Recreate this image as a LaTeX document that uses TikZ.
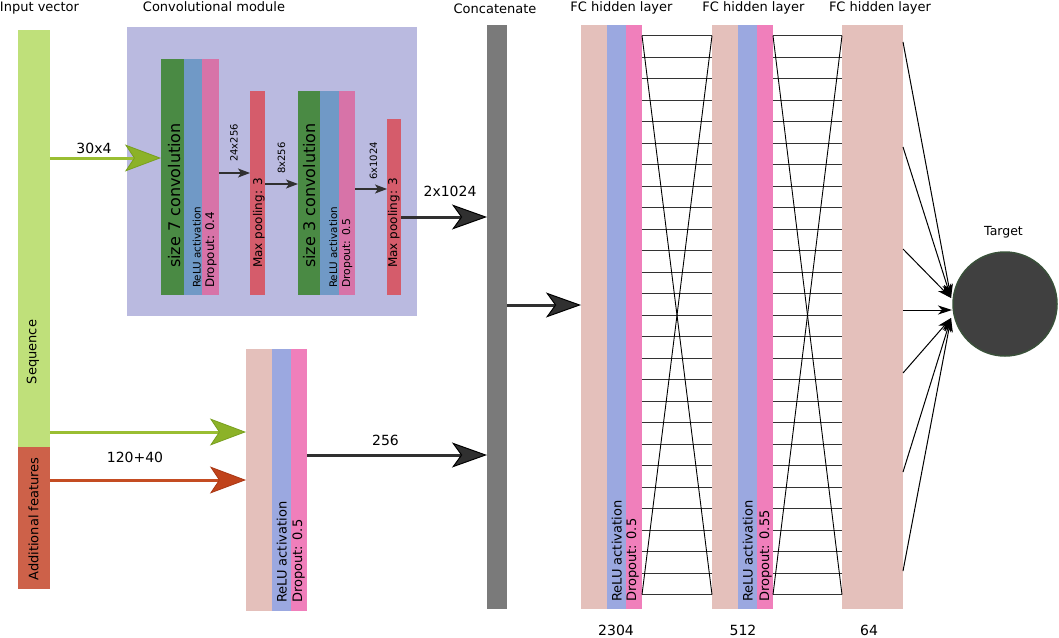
\documentclass[tikz,border=0pt]{standalone}
\usepackage{fontspec}
\setmainfont{DejaVu Sans}
\usetikzlibrary{arrows.meta}

\definecolor{seqgreen}{RGB}{191,224,122}
\definecolor{addred}{RGB}{205,97,73}
\definecolor{convbg}{RGB}{186,186,224}
\definecolor{convgreen}{RGB}{74,138,68}
\definecolor{convblue}{RGB}{112,153,198}
\definecolor{convpink}{RGB}{215,115,168}
\definecolor{poolred}{RGB}{213,92,107}
\definecolor{fcbeige}{RGB}{228,192,187}
\definecolor{fcblue}{RGB}{155,168,224}
\definecolor{fcpink}{RGB}{240,127,187}
\definecolor{concatgray}{RGB}{122,122,122}
\definecolor{targetfill}{RGB}{64,64,64}
\definecolor{targetedge}{RGB}{58,80,58}
\definecolor{arrgreen}{RGB}{154,190,50}
\definecolor{arrgreenhead}{RGB}{140,178,40}
\definecolor{arrgreenedge}{RGB}{120,160,30}
\definecolor{arrred}{RGB}{196,76,34}
\definecolor{arrredhead}{RGB}{192,67,27}
\definecolor{arrrededge}{RGB}{170,55,20}
\definecolor{arrdark}{RGB}{48,48,48}

\begin{document}
\begin{tikzpicture}[x=1pt,y=-1pt,
  bar/.style={inner sep=0pt, outer sep=0pt, anchor=north west, draw=none},
  vtext/.style={rotate=90, anchor=base west, inner sep=0pt, text=black},
  fs/.style={font=\fontsize{#1}{#1}\selectfont},
  lbl/.style={inner sep=0pt, anchor=base, text=black},
  bigarrow/.style={draw=arrdark, line width=3pt,
    -{Stealth[length=35pt,width=25pt,inset=9pt,line width=1pt,color=black,fill=arrdark]}},
  greenarrow/.style={draw=arrgreen, line width=3pt,
    -{Stealth[length=36pt,width=27pt,inset=9pt,line width=0.8pt,color=arrgreenedge,fill=arrgreenhead]}},
  redarrow/.style={draw=arrred, line width=3pt,
    -{Stealth[length=36pt,width=27pt,inset=9pt,line width=0.8pt,color=arrrededge,fill=arrredhead]}},
  smallarrow/.style={draw=arrdark, line width=1.2pt,
    -{Stealth[length=12pt,width=9pt,inset=3pt]}},
  tarrow/.style={draw=black, line width=1pt,
    -{Stealth[length=14pt,width=9pt,inset=4pt]}},
  gridh/.style={draw=black!80, line width=1.1pt},
  gridd/.style={draw=black, line width=0.9pt},
]
\useasboundingbox (0,0) rectangle (1059,637);
\fill[white] (0,0) rectangle (1059,637);

% ---- input vector ----
\node[bar, fill=seqgreen, minimum width=32pt, minimum height=417pt] (seq) at (18,30) {};
\node[bar, fill=addred, minimum width=32pt, minimum height=142pt] (add) at (18,447) {};
\node[rotate=90, fs=13, inner sep=0pt] (seqlbl) at (33,352) {Sequence};
\node[rotate=90, fs=13, inner sep=0pt] (addlbl) at (33.5,519) {Additional features};

% ---- convolutional module ----
\node[bar, fill=convbg, minimum width=290pt, minimum height=289pt] (convbg) at (127,27) {};
\node[bar, fill=convgreen, minimum width=23pt, minimum height=236pt] (c1g) at (161,59) {};
\node[bar, fill=convblue, minimum width=18pt, minimum height=236pt] (c1b) at (184,59) {};
\node[bar, fill=convpink, minimum width=17pt, minimum height=236pt] (c1p) at (202,59) {};
\node[bar, fill=poolred, minimum width=15pt, minimum height=204pt] (mp1) at (250,91) {};
\node[bar, fill=convgreen, minimum width=22pt, minimum height=204pt] (c2g) at (298,91) {};
\node[bar, fill=convblue, minimum width=19pt, minimum height=204pt] (c2b) at (320,91) {};
\node[bar, fill=convpink, minimum width=16pt, minimum height=204pt] (c2p) at (339,91) {};
\node[bar, fill=poolred, minimum width=14pt, minimum height=176pt] (mp2) at (387,119) {};

\node[vtext, fs=16] (t1) at (180,268) {size 7 convolution};
\node[vtext, fs=10.4] (t2) at (200.5,288) {ReLU activation};
\node[vtext, fs=11.9] (t3) at (214,288) {Dropout: 0.4};
\node[vtext, fs=12] (t4) at (262,268) {Max pooling: 3};
\node[vtext, fs=16] (t5) at (315,268) {size 3 convolution};
\node[vtext, fs=10.4] (t6) at (337,288) {ReLU activation};
\node[vtext, fs=10.8] (t7) at (350,288) {Dropout: 0.5};
\node[vtext, fs=12] (t8) at (397,268) {Max pooling: 3};

\node[vtext, fs=10] (s1) at (237.5,162) {24x256};
\node[vtext, fs=10] (s2) at (285,174) {8x256};
\node[vtext, fs=10] (s3) at (377,180) {6x1024};

% ---- concatenate ----
\node[bar, fill=concatgray, minimum width=20pt, minimum height=584pt] (concat) at (487,25) {};

% ---- additional-feature dense block ----
\node[bar, fill=fcbeige, minimum width=26pt, minimum height=262pt] (lowa) at (246,349) {};
\node[bar, fill=fcblue, minimum width=19pt, minimum height=262pt] (lowb) at (272,349) {};
\node[bar, fill=fcpink, minimum width=16pt, minimum height=262pt] (lowc) at (291,349) {};
\node[vtext, fs=13] (t9) at (286.5,603) {ReLU activation};
\node[vtext, fs=13] (t10) at (302,603) {Dropout: 0.5};

% ---- FC layers ----
\node[bar, fill=fcbeige, minimum width=26pt, minimum height=584pt] (fc1a) at (581,25) {};
\node[bar, fill=fcblue, minimum width=19pt, minimum height=584pt] (fc1b) at (607,25) {};
\node[bar, fill=fcpink, minimum width=16pt, minimum height=584pt] (fc1c) at (626,25) {};
\node[bar, fill=fcbeige, minimum width=26pt, minimum height=584pt] (fc2a) at (712,25) {};
\node[bar, fill=fcblue, minimum width=19pt, minimum height=584pt] (fc2b) at (738,25) {};
\node[bar, fill=fcpink, minimum width=16pt, minimum height=584pt] (fc2c) at (757,25) {};
\node[bar, fill=fcbeige, minimum width=61pt, minimum height=584pt] (fc3) at (842,25) {};
\node[vtext, fs=13] (t11) at (621.5,602) {ReLU activation};
\node[vtext, fs=13] (t12) at (636,602) {Dropout: 0.5};
\node[vtext, fs=13] (t13) at (752.5,602) {ReLU activation};
\node[vtext, fs=13] (t14) at (769,602) {Dropout: 0.55};

% ---- target ----
\node[circle, fill=targetfill, draw=targetedge, line width=1.5pt, minimum size=104pt, inner sep=0pt] (target) at (1005,304) {};

% ---- titles ----
\node[lbl, fs=13] (h1) at (39.5,11) {Input vector};
\node[lbl, fs=13] (h2) at (214,12) {Convolutional module};
\node[lbl, fs=13] (h3) at (495,13) {Concatenate};
\node[lbl, fs=13] (h4) at (621.5,11) {FC hidden layer};
\node[lbl, fs=13] (h5) at (753.5,11) {FC hidden layer};
\node[lbl, fs=13] (h6) at (880,11) {FC hidden layer};
\node[lbl, fs=12.5] (h7) at (1003.5,235) {Target};
\node[lbl, fs=14] (n1) at (616,635) {2304};
\node[lbl, fs=14] (n2) at (743,635) {512};
\node[lbl, fs=14] (n3) at (869,635) {64};

% ---- arrow labels ----
\node[lbl, fs=14] (a1) at (94,153) {30x4};
\node[lbl, fs=14] (a2) at (135,462) {120+40};
\node[lbl, fs=14] (a3) at (385.5,445) {256};
\node[lbl, fs=14] (a4) at (450,196) {2x1024};

% ---- helper levels ----
\coordinate (y158) at (0,158);
\coordinate (y173) at (0,173);
\coordinate (y184) at (0,184);
\coordinate (y189) at (0,189);
\coordinate (y217) at (0,217);
\coordinate (y305) at (0,305);
\coordinate (y432) at (0,432);
\coordinate (y480) at (0,480);
\coordinate (y455) at (0,455);

% ---- connectors ----
\draw[greenarrow] (seq.east |- y158) -- (c1g.west |- y158);
\draw[smallarrow] (c1p.east |- y173) -- (mp1.west |- y173);
\draw[smallarrow] (mp1.east |- y184) -- (c2g.west |- y184);
\draw[smallarrow] (c2p.east |- y189) -- (mp2.west |- y189);
\draw[bigarrow] (mp2.east |- y217) -- (concat.west |- y217);
\draw[greenarrow] (seq.east |- y432) -- (lowa.west |- y432);
\draw[redarrow] (add.east |- y480) -- (lowa.west |- y480);
\draw[bigarrow] (lowc.east |- y455) -- (concat.west |- y455);
\draw[bigarrow] (concat.east |- y305) -- (fc1a.west |- y305);

% ---- FC connections ----
\foreach \i in {0,...,26}{
  \coordinate (hh) at (0,{35.7+21.5*\i});
  \draw[gridh] (fc1c.east |- hh) -- (fc2a.west |- hh);
  \draw[gridh] (fc2c.east |- hh) -- (fc3.west |- hh);
}
\coordinate (gtop) at (0,35.7);
\coordinate (gbot) at (0,594.7);
\draw[gridd] (fc1c.east |- gtop) -- (fc2a.west |- gbot);
\draw[gridd] (fc2a.west |- gtop) -- (fc1c.east |- gbot);
\draw[gridd] (fc2c.east |- gtop) -- (fc3.west |- gbot);
\draw[gridd] (fc3.west |- gtop) -- (fc2c.east |- gbot);

% ---- to target ----
\coordinate (tgtU) at (951,298);
\coordinate (tgtM) at (952,310);
\coordinate (tgtD) at (951,318);
\foreach \yy/\e in {42/tgtU,147/tgtU,249/tgtU,310/tgtM,373/tgtD,472/tgtD,571/tgtD}{
  \coordinate (ss) at (0,\yy);
  \draw[tarrow] (fc3.east |- ss) -- (\e);
}
\end{tikzpicture}
\end{document}
